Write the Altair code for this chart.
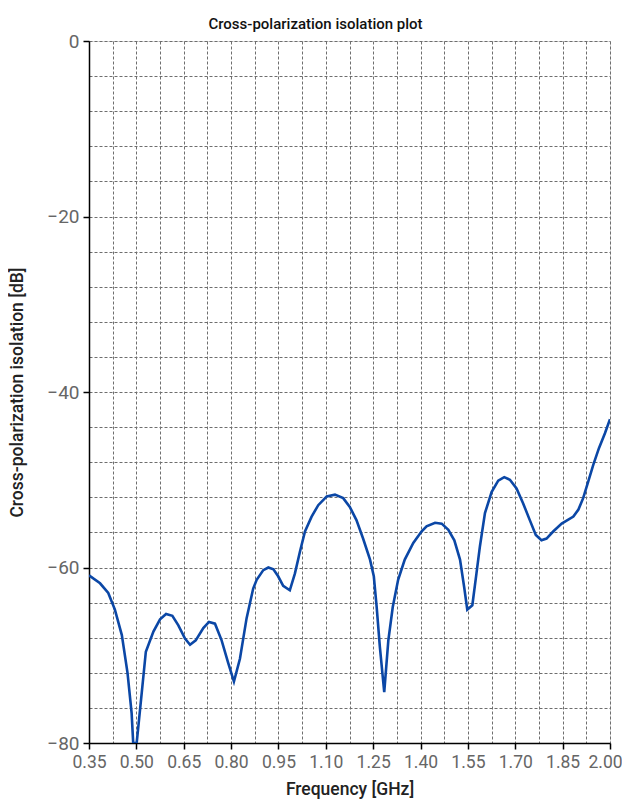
import altair as alt
import pandas as pd

# Frequency [GHz]
freq = [0.35, 0.385, 0.411, 0.432, 0.454, 0.472, 0.485, 0.49, 0.501, 0.517,
        0.530, 0.554, 0.575, 0.594, 0.614, 0.633, 0.654, 0.67, 0.688, 0.712,
        0.73, 0.749, 0.77, 0.791, 0.809, 0.828, 0.849, 0.87, 0.881, 0.902,
        0.918, 0.934, 0.949, 0.965, 0.986, 1.002, 1.018, 1.034, 1.055, 1.076,
        1.103, 1.129, 1.155, 1.176, 1.197, 1.218, 1.24, 1.252, 1.261, 1.271,
        1.285, 1.298, 1.312, 1.329, 1.35, 1.377, 1.403, 1.419, 1.446, 1.467,
        1.488, 1.507, 1.525, 1.538, 1.548, 1.564, 1.577, 1.588, 1.604, 1.625,
        1.646, 1.665, 1.683, 1.704, 1.725, 1.746, 1.765, 1.783, 1.799, 1.82,
        1.847, 1.884, 1.9, 1.915, 1.931, 1.947, 1.965, 1.984, 2.0]

# Cross-polarization isolation [dB]
xpol = [-60.9, -61.8, -62.9, -64.8, -67.7, -72.0, -76.6, -80.0, -80.0, -74.3,
        -69.6, -67.3, -65.9, -65.3, -65.5, -66.6, -68.1, -68.8, -68.3, -66.9,
        -66.2, -66.4, -68.3, -70.9, -73.0, -70.4, -65.8, -62.4, -61.4, -60.3,
        -60.0, -60.2, -61.0, -62.1, -62.6, -60.7, -58.2, -55.9, -54.2, -52.9,
        -51.9, -51.7, -52.1, -53.1, -54.6, -56.7, -59.1, -61.0, -64.5, -69.0,
        -74.2, -68.3, -64.5, -61.4, -59.1, -57.2, -55.9, -55.3, -54.9, -55.0,
        -55.7, -56.9, -59.1, -62.2, -64.8, -64.3, -60.7, -57.6, -53.8, -51.4,
        -50.1, -49.7, -50.0, -51.0, -52.7, -54.6, -56.3, -56.9, -56.7, -55.9,
        -55.0, -54.2, -53.4, -52.1, -50.2, -48.3, -46.4, -44.7, -43.1]

# Axis ticks / grid positions
x_ticks = [0.35, 0.425, 0.50, 0.575, 0.65, 0.725, 0.80, 0.875, 0.95, 1.025,
           1.10, 1.175, 1.25, 1.325, 1.40, 1.475, 1.55, 1.625, 1.70, 1.775,
           1.85, 1.925, 2.00]
y_ticks = [-80, -76, -72, -68, -64, -60, -56, -52, -48, -44, -40, -36, -32,
           -28, -24, -20, -16, -12, -8, -4, 0]

df = pd.DataFrame({"f": freq, "x": xpol})

FONT = "Roboto, Liberation Sans, sans-serif"

x_major_test = "abs(round((datum.value - 0.35) / 0.15) * 0.15 - (datum.value - 0.35)) < 1e-6"
y_major_test = "datum.value % 20 === 0"

common = dict(
    grid=True,
    gridDash=[3, 2],
    gridColor="#6e6e6e",
    gridWidth=1,
    tickColor="#000000",
    tickSize=6,
    tickWidth=1.5,
    domainColor="#000000",
    domainWidth=1.5,
    labelColor="#666666",
    labelFont=FONT,
    labelOverlap=False,
    labelBound=False,
    labelFlush=False,
    titleFont=FONT,
    titleFontSize=17.5,
    titleFontWeight=500,
    titleColor="#222222",
)

x_axis = alt.Axis(
    values=x_ticks,
    format=".2f",
    labelExpr=f"({x_major_test}) ? datum.label : ''",
    tickOpacity={"condition": {"test": x_major_test, "value": 1}, "value": 0},
    labelOffset={"condition": {"test": "datum.value >= 1.999", "value": -5}, "value": 0},
    labelFontSize=17.5,
    labelPadding=4,
    titlePadding=10,
    **common,
)

y_axis = alt.Axis(
    values=y_ticks,
    labelExpr=f"({y_major_test}) ? datum.label : ''",
    tickOpacity={"condition": {"test": y_major_test, "value": 1}, "value": 0},
    labelFontSize=19,
    labelPadding=4,
    titlePadding=20,
    **common,
)

chart = alt.Chart(df).mark_line(color="#0b47a6", strokeWidth=2.6, clip=True).encode(
    x=alt.X("f:Q", scale=alt.Scale(domain=[0.35, 2.0], nice=False, zero=False),
            axis=x_axis, title="Frequency [GHz]"),
    y=alt.Y("x:Q", scale=alt.Scale(domain=[-80, 0], nice=False, zero=False),
            axis=y_axis, title="Cross-polarization isolation [dB]"),
).properties(
    width=521,
    height=702,
    title=alt.TitleParams(
        "Cross-polarization isolation plot",
        font=FONT,
        fontSize=15,
        fontWeight=500,
        color="#111111",
        anchor="middle",
        dx=-34,
        offset=0,
    ),
    autosize=alt.AutoSizeParams(type="none"),
    padding={"left": 81, "top": 33, "right": 12, "bottom": 58},
).configure_view(
    stroke="#222222",
    strokeWidth=1.5,
).configure(background="white")

chart.save("out.html", embed_options={"renderer": "svg", "actions": False})
